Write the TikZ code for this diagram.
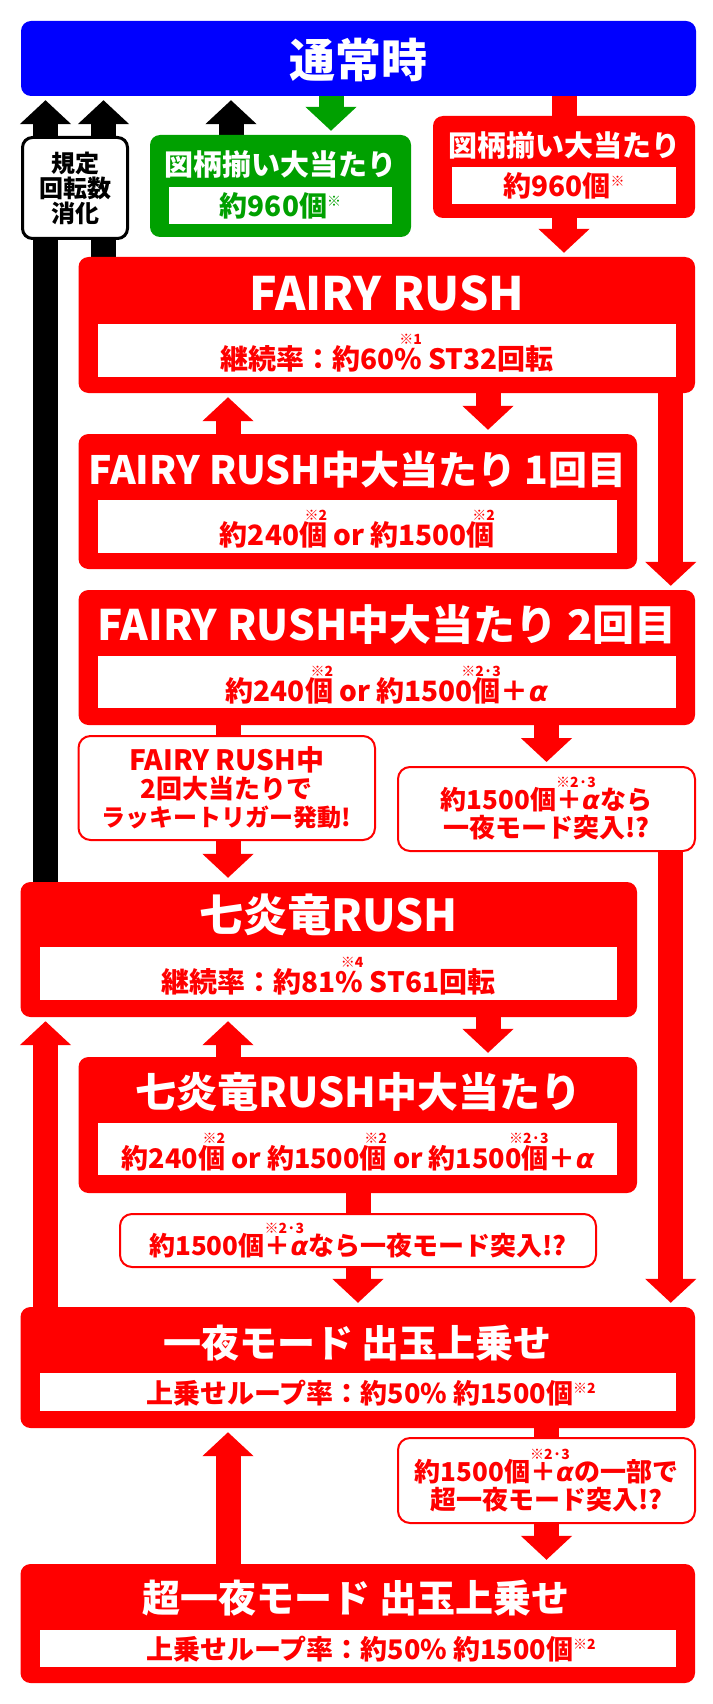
\documentclass[tikz,border=0pt]{standalone}
\usepackage{fontspec}
\setmainfont{Noto Sans CJK JP}[BoldFont={Noto Sans CJK JP Black}]
\newfontfamily\greekfont{DejaVu Sans}
\usetikzlibrary{arrows.meta,backgrounds}

\definecolor{rushred}{RGB}{255,0,0}
\definecolor{normalblue}{RGB}{0,0,255}
\definecolor{hitgreen}{RGB}{0,160,0}

\newcommand\fsz[2][]{\fontsize{#2}{#2}\selectfont}
\newcommand\kome[1]{\makebox[0pt][r]{\raisebox{0.9em}{\fsz{14}※#1}}}
\newcommand\komel[1]{\makebox[0pt][l]{\raisebox{0.85em}{\fsz{14}※#1}}}
\newcommand\komes[1]{\raisebox{0.35em}{\fsz{14}※#1}}
\newcommand\alp{{\greekfont\bfseries\itshape α}}

\tikzset{
	redbox/.style={fill=rushred, rounded corners=10pt, inner sep=0pt},
	bluebox/.style={fill=normalblue, rounded corners=10pt, inner sep=0pt},
	greenbox/.style={fill=hitgreen, rounded corners=10pt, inner sep=0pt},
	whitebar/.style={fill=white, inner sep=0pt},
	headtext/.style={text=white, inner sep=0pt},
	bartext/.style={text=rushred, font=\bfseries\fsz{28}, inner sep=0pt},
	notebox/.style={draw=rushred, line width=2pt, fill=white, rounded corners=12pt, inner sep=0pt, text=rushred, align=center, font=\bfseries\fontsize{26}{28}\selectfont},
	arr/.style={line width=25pt, -{Triangle[width=50pt,length=24pt]}, shorten >=4pt},
	redarr/.style={arr, draw=rushred},
	blackarr/.style={arr, draw=black},
	greenarr/.style={arr, draw=hitgreen},
	redline/.style={line width=25pt, draw=rushred}
}

\begin{document}
\begin{tikzpicture}[x=1pt, y=-1pt]
	\useasboundingbox (0,0) rectangle (712,1704);
	
	% Define the columns of the arrows
	\coordinate (cA) at (45.5,0);
	\coordinate (cB) at (103.5,0);
	\coordinate (cK) at (231,0);
	\coordinate (cC) at (228,0);
	\coordinate (cG) at (331,0);
	\coordinate (cM) at (358,0);
	\coordinate (cD) at (488,0);
	\coordinate (cE) at (546.5,0);
	\coordinate (cJ) at (564,0);
	\coordinate (cF) at (670.75,0);
	
	% Normal state
	\node[bluebox, minimum width=675pt, minimum height=75pt] (normal) at (358.5,58.5) {};
	\node[headtext, font=\bfseries\fsz{46}] at (358.5,60) {通常時};
	
	% Jackpot boxes
	\node[greenbox, minimum width=261pt, minimum height=102pt] (greenhit) at (280.5,186) {};
	\node[headtext, font=\bfseries\fsz{29}] at (280.5,164) {図柄揃い大当たり};
	\node[whitebar, minimum width=223pt, minimum height=37pt] at (280.5,205.5) {};
	\node[bartext, text=hitgreen] at (280.5,206) {約960個\komes{}};
	
	\node[redbox, minimum width=262pt, minimum height=102pt] (jackpot) at (564,167) {};
	\node[headtext, font=\bfseries\fsz{29}] at (564,145) {図柄揃い大当たり};
	\node[whitebar, minimum width=224pt, minimum height=37pt] at (564,185.5) {};
	\node[bartext] at (564,186) {約960個\komes{}};
	
	% FAIRY RUSH
	\node[redbox, minimum width=616.5pt, minimum height=136pt] (fairy) at (386.75,325) {};
	\node[headtext, font=\bfseries\fsz{46}] at (387,293) {FAIRY RUSH};
	\node[whitebar, minimum width=578pt, minimum height=53pt] at (387,350.5) {};
	\node[bartext] at (387,353) {継続率：約60\%\kome{1} ST32回転};
	
	\node[redbox, minimum width=558.5pt, minimum height=135pt] (rush1) at (357.75,501.5) {};
	\node[headtext, font=\bfseries\fsz{39}] at (357.5,470) {FAIRY RUSH中大当たり 1回目};
	\node[whitebar, minimum width=519pt, minimum height=53pt] at (357.5,526.5) {};
	\node[bartext] at (357.5,529) {約240個\kome{2} or 約1500個\kome{2}};
	
	\node[redbox, minimum width=616.5pt, minimum height=135pt] (rush2) at (386.75,657.5) {};
	\node[headtext, font=\bfseries\fsz{42}] at (387,625) {FAIRY RUSH中大当たり 2回目};
	\node[whitebar, minimum width=578pt, minimum height=52pt] at (387,682) {};
	\node[bartext] at (387,685) {約240個\kome{2} or 約1500個\kome{2·3}＋\alp};
	
	% Notes
	\node[notebox, minimum width=296.5pt, minimum height=104pt] (lucky) at (226.75,788) {{\fsz{28}FAIRY RUSH中}\\2回大当たりで\\{\fsz{24}ラッキートリガー発動!}};
	\node[notebox, minimum width=297pt, minimum height=84pt] (yoru1) at (546.5,809) {約1500個\komel{2·3}＋\alp なら\\一夜モード突入!?};
	
	% Shichienryu RUSH
	\node[redbox, minimum width=616.5pt, minimum height=135pt] (seven) at (328.75,949.5) {};
	\node[headtext, font=\bfseries\fsz{44}] at (328.5,915) {七炎竜RUSH};
	\node[whitebar, minimum width=577pt, minimum height=53pt] at (328.5,973.5) {};
	\node[bartext] at (328.5,976) {継続率：約81\%\kome{4} ST61回転};
	
	\node[redbox, minimum width=558.5pt, minimum height=136pt] (sevenhit) at (357.75,1125) {};
	\node[headtext, font=\bfseries\fsz{41}] at (358.5,1092) {七炎竜RUSH中大当たり};
	\node[whitebar, minimum width=519pt, minimum height=52pt] at (357.5,1149) {};
	\node[bartext, font=\bfseries\fsz{27}] at (358,1152) {約240個\kome{2} or 約1500個\kome{2} or 約1500個\kome{2·3}＋\alp};
	
	\node[notebox, minimum width=476pt, minimum height=53pt] (yoru2) at (358,1240.5) {約1500個\komel{2·3}＋\alp なら一夜モード突入!?};
	
	% Ichiya modes
	\node[redbox, minimum width=674.5pt, minimum height=121pt] (yoru) at (357.75,1367.5) {};
	\node[headtext, font=\bfseries\fsz{38}] at (357.5,1343) {一夜モード 出玉上乗せ};
	\node[whitebar, minimum width=636pt, minimum height=38pt] at (358,1392) {};
	\node[bartext, font=\bfseries\fsz{27}] at (371,1393) {上乗せループ率：約50\% 約1500個\komes{2}};
	
	\node[notebox, minimum width=297pt, minimum height=85pt] (yoru3) at (546.5,1480.5) {約1500個\komel{2·3}＋\alp の一部で\\超一夜モード突入!?};
	
	\node[redbox, minimum width=674.5pt, minimum height=119pt] (super) at (357.75,1623.5) {};
	\node[headtext, font=\bfseries\fsz{38}] at (356,1598) {超一夜モード 出玉上乗せ};
	\node[whitebar, minimum width=636pt, minimum height=37pt] at (358,1648.5) {};
	\node[bartext, font=\bfseries\fsz{27}] at (371,1649) {上乗せループ率：約50\% 約1500個\komes{2}};
	
	% Draw the arrows behind the boxes
	\begin{scope}[on background layer]
		\draw[blackarr] (seven.north -| cA) -- (normal.south -| cA);
		\draw[blackarr] (fairy.north -| cB) -- (normal.south -| cB);
		\draw[blackarr] (greenhit.north -| cK) -- (normal.south -| cK);
		\draw[greenarr] (normal.south -| cG) -- (greenhit.north -| cG);
		\draw[redline] (normal.south -| cJ) -- (jackpot.north -| cJ);
		\draw[redarr] (jackpot.south -| cJ) -- (fairy.north -| cJ);
		\draw[redarr] (rush1.north -| cC) -- (fairy.south -| cC);
		\draw[redarr] (fairy.south -| cD) -- (rush1.north -| cD);
		\draw[redarr] (fairy.south -| cF) -- (rush2.north -| cF);
		\draw[redline] (rush2.south -| cC) -- (lucky.north -| cC);
		\draw[redarr] (lucky.south -| cC) -- (seven.north -| cC);
		\draw[redarr] (rush2.south -| cE) -- (yoru1.north -| cE);
		\draw[redarr] (yoru1.south -| cF) -- (yoru.north -| cF);
		\draw[redarr] (sevenhit.north -| cC) -- (seven.south -| cC);
		\draw[redarr] (seven.south -| cD) -- (sevenhit.north -| cD);
		\draw[redline] (sevenhit.south -| cM) -- (yoru2.north -| cM);
		\draw[redarr] (yoru2.south -| cM) -- (yoru.north -| cM);
		\draw[redarr] (yoru.north -| cA) -- (seven.south -| cA);
		\draw[redline] (yoru.south -| cE) -- (yoru3.north -| cE);
		\draw[redarr] (yoru3.south -| cE) -- (super.north -| cE);
		\draw[redarr] (super.north -| cC) -- (yoru.south -| cC);
	\end{scope}
	
	% Spin count box over the black arrows
	\node[draw=black, line width=3pt, fill=white, rounded corners=10pt, minimum width=105pt, minimum height=101pt, inner sep=0pt, align=center, font=\bfseries\fontsize{24}{25}\selectfont] (kitei) at (75,188) {規定\\回転数\\消化};
\end{tikzpicture}
\end{document}
